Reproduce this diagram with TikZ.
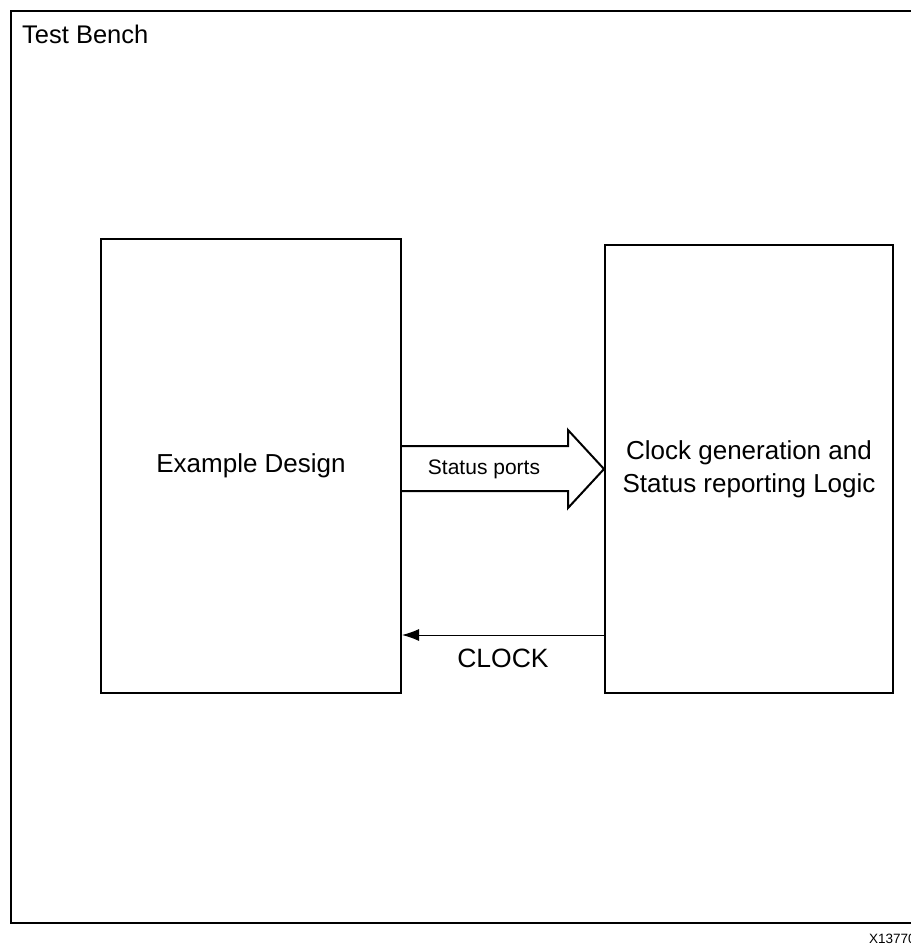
\documentclass[tikz,border=0pt]{standalone}
\usepackage{fontspec}
\setmainfont{Liberation Sans}
\usetikzlibrary{arrows.meta}
\tikzset{
  blockbox/.style={draw, line width=2pt, inner sep=0pt, align=center,
    font=\fontsize{26}{33}\selectfont},
  labeltext/.style={inner sep=0pt, font=\fontsize{25.5}{30}\selectfont},
}
\begin{document}
\begin{tikzpicture}[x=1pt,y=-1pt]
    \useasboundingbox (0,0) rectangle (911,946);
    \clip (0,0) rectangle (911,946);
    % outer frame
    \draw [line width=2pt] (11,11) rectangle (925,923);
    \node[labeltext, anchor=base west] (bench) at (22,43) {Test Bench};
    % blocks
    \node[blockbox, minimum width=300, minimum height=454] (design) at (251,466) {Example Design};
    \node[blockbox, minimum width=288, minimum height=448] (clk) at (749,469) {Clock generation and\\Status reporting Logic};
    % status ports arrow
    \draw [line width=2pt, line join=miter] (design.east |- 0,446) -- (568,446) -- (568,430)
        -- (clk.west) -- (568,508) -- (568,491) -- (design.east |- 0,491);
    \node[labeltext, font=\fontsize{21}{24}\selectfont] (status) at (484,469) {Status ports};
    % clock
    \coordinate (clkout) at (clk.west |- 0,635);
    \draw [line width=1pt, -{Latex[length=17pt,width=12pt]}] (clkout) -- (design.east |- clkout);
    \node[labeltext, font=\fontsize{26.5}{30}\selectfont] (clocklbl) at (503,658) {CLOCK};
    \node[inner sep=0pt, anchor=base west, font=\fontsize{13.5}{16}\selectfont] (fignum) at (869,943) {X13770};
\end{tikzpicture}
\end{document}
